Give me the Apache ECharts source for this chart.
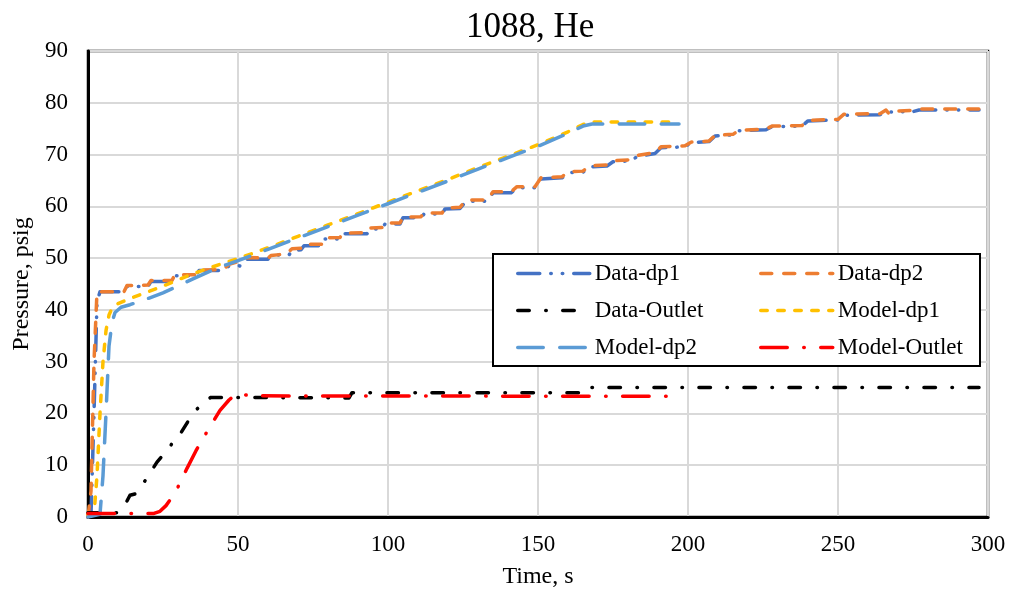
<!DOCTYPE html>
<html>
<head>
<meta charset="utf-8">
<script src="https://cdn.jsdelivr.net/npm/echarts@6/dist/echarts.min.js"></script>
<style>
  html, body { margin: 0; padding: 0; background: #fff; }
  #chart { width: 1010px; height: 598px; }
</style>
</head>
<body>
<div id="chart"></div>
<script>
  // 数据
  var seriesNames = ['Data-dp1', 'Data-dp2', 'Data-Outlet', 'Model-dp1', 'Model-dp2', 'Model-Outlet']

  var dp1T = [0, 1, 2, 3, 4, 12, 13, 20, 21, 28, 29, 36, 37, 45, 47, 50, 51, 53, 60, 61, 67, 68, 71, 72, 78, 79, 84, 85, 93, 94, 98, 99, 104, 105, 111, 112, 118, 119, 124, 126, 133, 135, 141, 143, 149, 151, 158, 160, 165, 167, 173, 175, 181, 183, 189, 191, 199, 201, 207, 209, 215, 217, 226, 228, 238, 240, 250, 252, 264, 266, 275, 277, 297]
  var dp1P = [0, 0.5, 20, 41.5, 43.5, 43.5, 44.5, 44.5, 45.5, 45.5, 46.6, 46.6, 47.6, 47.6, 48.5, 48.6, 48.4, 49.8, 49.8, 50.6, 50.6, 51.5, 51.6, 52.4, 52.4, 53.7, 53.7, 54.7, 54.7, 55.6, 55.6, 56.6, 56.6, 57.8, 57.8, 58.5, 58.5, 59.5, 59.6, 61, 61, 62.6, 62.6, 63.6, 63.6, 65.3, 65.5, 66.5, 66.6, 67.6, 67.8, 68.6, 68.8, 69.6, 70.2, 71.3, 71.5, 72.3, 72.5, 73.6, 73.8, 74.6, 74.8, 75.4, 75.5, 76.5, 76.7, 77.6, 77.7, 78.2, 78.3, 78.6, 78.6]

  var dp2T = [0, 1, 2, 3, 12, 13, 20, 21, 28, 29, 36, 37, 45, 47, 50, 52, 53, 60, 61, 66, 68, 71, 72, 78, 79, 84, 85, 93, 94, 98, 99, 104, 105, 111, 112, 118, 119, 124, 126, 133, 135, 141, 143, 149, 151, 158, 160, 165, 167, 173, 175, 181, 183, 189, 191, 199, 201, 207, 209, 215, 217, 226, 228, 238, 240, 250, 252, 264, 266, 267, 268, 275, 277, 297]
  var dp2P = [0, 5, 30, 43.5, 43.5, 44.7, 44.8, 45.7, 45.7, 46.8, 46.8, 47.7, 47.8, 48.8, 49.3, 49.6, 50.1, 50, 50.5, 50.8, 51.8, 51.9, 52.7, 52.7, 53.9, 54, 54.8, 54.9, 55.8, 55.9, 56.8, 56.8, 57.9, 58, 58.7, 58.7, 59.7, 59.8, 61.2, 61.2, 62.8, 62.8, 63.8, 63.8, 65.5, 65.7, 66.7, 66.8, 67.8, 68, 68.8, 69, 69.8, 70.4, 71.5, 71.7, 72.4, 72.6, 73.7, 73.9, 74.7, 74.9, 75.5, 75.6, 76.6, 76.8, 77.8, 77.9, 78.6, 77.9, 78.4, 78.5, 78.8, 78.8]

  var outT = [0, 10, 12, 14, 16, 19, 23, 27, 30, 31, 35, 39, 41, 87, 88, 165, 166, 297]
  var outP = [0.8, 0.8, 2, 4.2, 4.5, 7, 10.6, 13.3, 16, 16.3, 20, 22.5, 23.1, 23, 24, 24, 25, 25]

  var mdp1T = [0, 2, 3, 4, 5, 6, 7, 8, 10, 14, 20, 25, 30, 35, 40, 46, 50, 60, 70, 80, 90, 100, 110, 120, 130, 140, 150, 160, 165, 168, 197]
  var mdp1P = [0.5, 0.5, 8, 20, 30, 36, 39, 40.3, 41.2, 42.2, 43.5, 44.6, 45.8, 47, 48, 49.2, 49.9, 52, 54.2, 56.4, 58.6, 60.8, 63, 65.2, 67.5, 69.7, 71.9, 74.4, 75.8, 76.3, 76.3]

  var mdp2T = [0, 4, 5, 6, 7, 8, 9, 11, 14, 20, 25, 30, 35, 40, 46, 50, 60, 70, 80, 90, 100, 110, 120, 130, 140, 150, 160, 165, 168, 197]
  var mdp2P = [0, 0.5, 8, 20, 33, 37.5, 39.5, 40.5, 41, 42.2, 43.3, 44.6, 46, 47.3, 48.7, 49.5, 51.7, 53.9, 56.1, 58.3, 60.5, 62.7, 64.9, 67.2, 69.4, 71.6, 74.1, 75.5, 75.9, 75.9]

  var moutT = [0, 22, 24, 26, 28, 30, 33, 36, 40, 44, 47, 49.5, 55, 197]
  var moutP = [0.7, 0.7, 1.1, 2.2, 3.8, 5.8, 9.4, 12.8, 16.8, 20.6, 22.6, 23.8, 23.4, 23.3]

  var xTicks = [0, 50, 100, 150, 200, 250, 300]
  var yTicks = [0, 10, 20, 30, 40, 50, 60, 70, 80, 90]

  function pairs(t, p) {
    return t.map(function (v, i) { return [v, p[i]] })
  }

  var font = 'Liberation Serif'
  var colors = ['#4472C4', '#ED7D31', '#000000', '#FFC000', '#5B9BD5', '#FF0000']
  var dashes = [
    [22, 11, 0.5, 11, 0.5, 11],
    [11, 12],
    [11.5, 16.5, 0.5, 16.5],
    [6.5, 10.5],
    [25.5, 16.5],
    [26.5, 16.5, 0.5, 16.5]
  ]
  var allData = [
    pairs(dp1T, dp1P), pairs(dp2T, dp2P), pairs(outT, outP),
    pairs(mdp1T, mdp1P), pairs(mdp2T, mdp2P), pairs(moutT, moutP)
  ]

  var myChart = echarts.init(document.getElementById('chart'))

  var series = seriesNames.map(function (name, i) {
    return {
      name: name,
      type: 'line',
      showSymbol: false,
      symbol: 'none',
      data: allData[i],
      lineStyle: {
        color: colors[i],
        width: 3.5,
        type: dashes[i],
        cap: 'round',
        join: 'round'
      },
      itemStyle: { color: colors[i] },
      z: 2 + i * 0.01
    }
  })

  var legendBase = {
    orient: 'vertical',
    top: 262,
    itemWidth: 72,
    itemHeight: 14,
    itemGap: 14,
    padding: 0,
    selectedMode: false,
    lineStyle: { width: 3.5 },
    itemStyle: { opacity: 0, borderWidth: 0 },
    textStyle: {
      fontFamily: font,
      fontSize: 23,
      lineHeight: 23,
      color: '#000'
    },
    z: 10
  }

  var option = {
    animation: false,
    backgroundColor: '#fff',
    title: {
      text: '1088, He',
      left: 461,
      top: 5,
      textStyle: {
        fontFamily: font,
        fontSize: 35,
        fontWeight: 'normal',
        color: '#000'
      }
    },
    grid: {
      left: 88,
      right: 22,
      top: 51,
      bottom: 81,
      show: true,
      borderColor: '#000',
      borderWidth: 2.5
    },
    legend: [
      Object.assign({}, legendBase, { left: 516, data: ['Data-dp1', 'Data-Outlet', 'Model-dp2'] }),
      Object.assign({}, legendBase, { left: 759, data: ['Data-dp2', 'Model-dp1', 'Model-Outlet'] })
    ],
    graphic: [{
      type: 'rect',
      z: 8,
      shape: { x: 493, y: 254, width: 487, height: 112 },
      style: { fill: '#fff', stroke: '#000', lineWidth: 2 }
    }],
    xAxis: {
      type: 'value',
      min: xTicks[0],
      max: xTicks[xTicks.length - 1],
      interval: 50,
      name: 'Time, s',
      nameLocation: 'middle',
      nameGap: 48,
      nameTextStyle: { fontFamily: font, fontSize: 24, color: '#000' },
      axisLine: { show: true, lineStyle: { color: '#000', width: 3 } },
      axisTick: { show: false },
      axisLabel: { fontFamily: font, fontSize: 23, color: '#000', margin: 16 },
      splitLine: { show: true, lineStyle: { color: '#d9d9d9', width: 2 } }
    },
    yAxis: {
      type: 'value',
      min: yTicks[0],
      max: yTicks[yTicks.length - 1],
      interval: 10,
      name: 'Pressure, psig',
      nameLocation: 'middle',
      nameGap: 54,
      nameTextStyle: { fontFamily: font, fontSize: 24, color: '#000' },
      axisLine: { show: true, lineStyle: { color: '#000', width: 3 } },
      axisTick: { show: false },
      axisLabel: { fontFamily: font, fontSize: 23, color: '#000', margin: 20 },
      splitLine: { show: true, lineStyle: { color: '#d9d9d9', width: 2 } }
    },
    series: series
  }

  myChart.setOption(option)
</script>
</body>
</html>
